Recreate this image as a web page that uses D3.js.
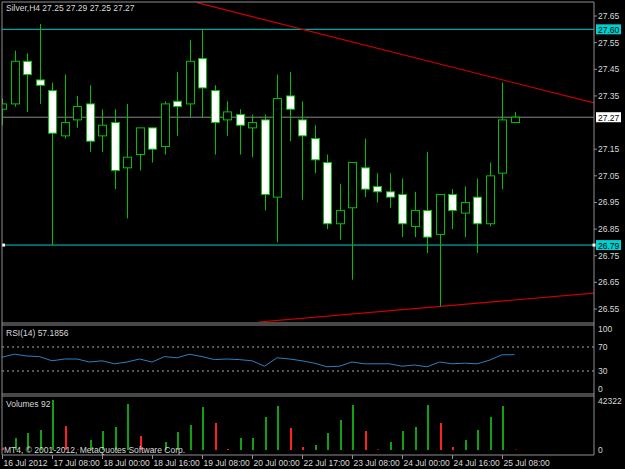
<!DOCTYPE html>
<html><head><meta charset="utf-8">
<script src="https://cdn.jsdelivr.net/npm/d3@7"></script>
<style>body{margin:0;background:#000}svg{display:block}text{font-family:"Liberation Sans",Arial,sans-serif;font-size:8.5px}</style>
</head><body>
<script>
// candles: open, high, low, close (H4 Silver)
const opens  = [27.30,27.32,27.48,27.41,27.37,27.20,27.26,27.32,27.20,27.25,27.08,27.13,27.23,27.16,27.33,27.32,27.49,27.37,27.26,27.28,27.23,27.26,26.97,27.35,27.26,27.19,27.10,26.87,26.93,27.08,27.01,26.99,26.98,26.86,26.92,26.83,26.98,26.91,26.97,26.87,27.06,27.25];
const highs  = [27.34,27.52,27.51,27.62,27.40,27.43,27.35,27.39,27.30,27.30,27.32,27.23,27.23,27.33,27.44,27.56,27.60,27.39,27.33,27.30,27.28,27.28,27.43,27.44,27.33,27.24,27.13,27.02,27.10,27.19,27.06,27.06,27.04,26.99,27.14,26.98,27.00,27.01,27.04,27.10,27.40,27.29];
const lows   = [27.24,27.31,27.29,27.32,26.79,27.19,27.23,27.14,27.14,27.00,26.89,27.07,27.10,27.13,27.20,27.27,27.27,27.13,27.20,27.13,27.12,26.92,26.80,27.18,26.96,27.06,26.85,26.81,26.66,26.97,26.95,26.93,26.82,26.82,26.76,26.56,26.85,26.82,26.76,26.86,27.00,27.25];
const closes = [27.32,27.48,27.43,27.39,27.21,27.25,27.31,27.18,27.24,27.07,27.12,27.23,27.15,27.32,27.31,27.48,27.38,27.25,27.29,27.24,27.25,26.98,27.34,27.30,27.20,27.11,26.87,26.92,27.10,27.00,26.99,26.97,26.87,26.92,26.82,26.98,26.92,26.95,26.87,27.05,27.26,27.27];
const volumes = [2000,10150,14390,16930,42322,20300,500,8460,16080,19460,38920,11840,500,6770,15230,21150,36380,22840,850,10150,10150,27910,37230,18610,2540,4230,14390,25380,38070,16080,500,6770,16080,19460,38070,22840,2540,8460,16930,27910,37230,300];
const volDown = [1,0,0,0,0,1,1,0,0,0,0,1,1,0,0,0,0,1,1,0,0,0,0,1,1,0,0,0,0,1,1,0,0,0,0,1,1,0,0,0,0,1];
const rsi = [53,58,55,54,47,50,50,45,47,42,45,50,45,54,52,58,54,49,50,49,47,38,52,50,47,43,37,38,45,42,42,42,38,40,37,45,42,43,42,48,57,57.19];
const priceTicks = [27.65,27.55,27.45,27.35,27.25,27.15,27.05,26.95,26.85,26.75,26.65,26.55];
const timeLabels = ["16 Jul 2012","17 Jul 08:00","18 Jul 00:00","18 Jul 16:00","19 Jul 08:00","20 Jul 00:00","22 Jul 17:00","23 Jul 08:00","24 Jul 00:00","24 Jul 16:00","25 Jul 08:00"];
const hLevels = [27.60, 26.79];
const bid = 27.27;
const upperTrend = [[15.6, 27.70], [47.4, 27.323]];
const lowerTrend = [[20.5, 26.501], [47.4, 26.61]];

const W = 625, H = 469, R = 594;
const svg = d3.select("body").append("svg").attr("width", W).attr("height", H);
svg.append("rect").attr("width", W).attr("height", H).attr("fill", "#000");

const x = d3.scaleLinear().domain([0, 1]).range([2, 14.5]);
const y = d3.scaleLinear().domain([26.55, 27.65]).range([309, 16]);
const yR = d3.scaleLinear().domain([0, 100]).range([389, 329]);
const yV = d3.scaleLinear().domain([0, 42322]).range([450, 400]);
const green = "#00c000";

const main = svg.append("g");
main.append("clipPath").attr("id", "cm").append("rect").attr("x", 2).attr("y", 2).attr("width", R - 2).attr("height", 320);
const plot = main.append("g").attr("clip-path", "url(#cm)");

// horizontal levels
hLevels.forEach(v => plot.append("line").attr("x1", 2).attr("x2", R).attr("y1", y(v)).attr("y2", y(v)).attr("stroke", "#00cccc").attr("stroke-width", 1));
plot.append("line").attr("x1", 2).attr("x2", R).attr("y1", y(bid)).attr("y2", y(bid)).attr("stroke", "#888").attr("stroke-width", 1);
// trend lines
[upperTrend, lowerTrend].forEach(t => plot.append("line")
  .attr("x1", x(t[0][0])).attr("y1", y(t[0][1])).attr("x2", x(t[1][0])).attr("y2", y(t[1][1]))
  .attr("stroke", "#d00000").attr("stroke-width", 1.2));

// candles
opens.forEach((o, i) => {
  const c = closes[i], cx = Math.round(x(i)) + 0.5;
  plot.append("line").attr("x1", cx).attr("x2", cx).attr("y1", y(highs[i])).attr("y2", y(lows[i])).attr("stroke", green);
  const top = y(Math.max(o, c)), bot = y(Math.min(o, c));
  plot.append("rect").attr("x", cx - 4).attr("y", top).attr("width", 8).attr("height", Math.max(1, bot - top))
    .attr("fill", c >= o ? "#000" : "#fff").attr("stroke", green).attr("stroke-width", 1);
});
plot.append("rect").attr("x", 2).attr("y", y(26.79) - 1.5).attr("width", 3).attr("height", 3).attr("fill", "#fff");

// RSI
[70, 30].forEach(v => svg.append("line").attr("x1", 2).attr("x2", R).attr("y1", yR(v)).attr("y2", yR(v))
  .attr("stroke", "#aaa").attr("stroke-dasharray", "2,3"));
svg.append("path").datum(rsi).attr("fill", "none").attr("stroke", "#2f7fc0").attr("stroke-width", 1)
  .attr("d", d3.line().x((d, i) => x(i)).y(d => yR(d)));

// volumes
volumes.forEach((v, i) => svg.append("rect").attr("x", Math.round(x(i))).attr("y", yV(v)).attr("width", 2)
  .attr("height", 450 - yV(v)).attr("fill", volDown[i] ? "#ff2020" : "#10a010"));

// panel frames
const frame = "#909090";
[[2, 2, R, 2], [2, 2, 2, 455], [R, 2, R, 455], [2, 323, R, 323], [2, 325, R, 325], [2, 394, R, 394], [2, 396, R, 396], [2, 455, R, 455]]
  .forEach(l => svg.append("line").attr("x1", l[0]).attr("y1", l[1]).attr("x2", l[2]).attr("y2", l[3]).attr("stroke", frame));

// right price axis
const lab = "#d8d8d8";
priceTicks.forEach(p => {
  if (Math.abs(y(p) - y(bid)) < 8) return; // hidden behind bid label
  svg.append("line").attr("x1", R).attr("x2", R + 3).attr("y1", y(p)).attr("y2", y(p)).attr("stroke", frame);
  svg.append("text").attr("x", 598).attr("y", y(p) + 3).attr("fill", lab).text(p.toFixed(2));
});
hLevels.forEach(v => {
  svg.append("rect").attr("x", 596).attr("y", y(v) - 5).attr("width", 25).attr("height", 10).attr("fill", "#00d0d0");
  svg.append("text").attr("x", 598).attr("y", y(v) + 3.5).attr("fill", "#000").text(v.toFixed(2));
});
svg.append("rect").attr("x", R - 1.5).attr("y", y(26.79) - 1.5).attr("width", 3).attr("height", 3).attr("fill", "#fff");
svg.append("rect").attr("x", 596).attr("y", y(bid) - 5).attr("width", 25).attr("height", 10).attr("fill", "#fff");
svg.append("text").attr("x", 598).attr("y", y(bid) + 3.5).attr("fill", "#000").text(bid.toFixed(2));

[100, 70, 30, 0].forEach(v => svg.append("text").attr("x", 598).attr("y", yR(v) + 3).attr("fill", lab).text(v));
svg.append("text").attr("x", 598).attr("y", 404).attr("fill", lab).text("42322");
svg.append("text").attr("x", 598).attr("y", 453).attr("fill", lab).text("0");

// time axis
timeLabels.forEach((t, k) => {
  const tx = Math.round(x(k * 4)) + 0.5;
  svg.append("line").attr("x1", tx).attr("x2", tx).attr("y1", 455).attr("y2", 459).attr("stroke", frame);
  svg.append("text").attr("x", tx + 1).attr("y", 466).attr("fill", lab).attr("font-size", "8px").text(t);
});

// captions
svg.append("text").attr("x", 6).attr("y", 11).attr("fill", lab).text("Silver,H4  27.25 27.29 27.25 27.27");
svg.append("text").attr("x", 6).attr("y", 336).attr("fill", lab).text("RSI(14) 57.1856");
svg.append("text").attr("x", 6).attr("y", 407).attr("fill", lab).text("Volumes 92");
svg.append("text").attr("x", 4).attr("y", 453).attr("fill", lab).text("MT4, © 2001-2012, MetaQuotes Software Corp.");
</script>
</body></html>
